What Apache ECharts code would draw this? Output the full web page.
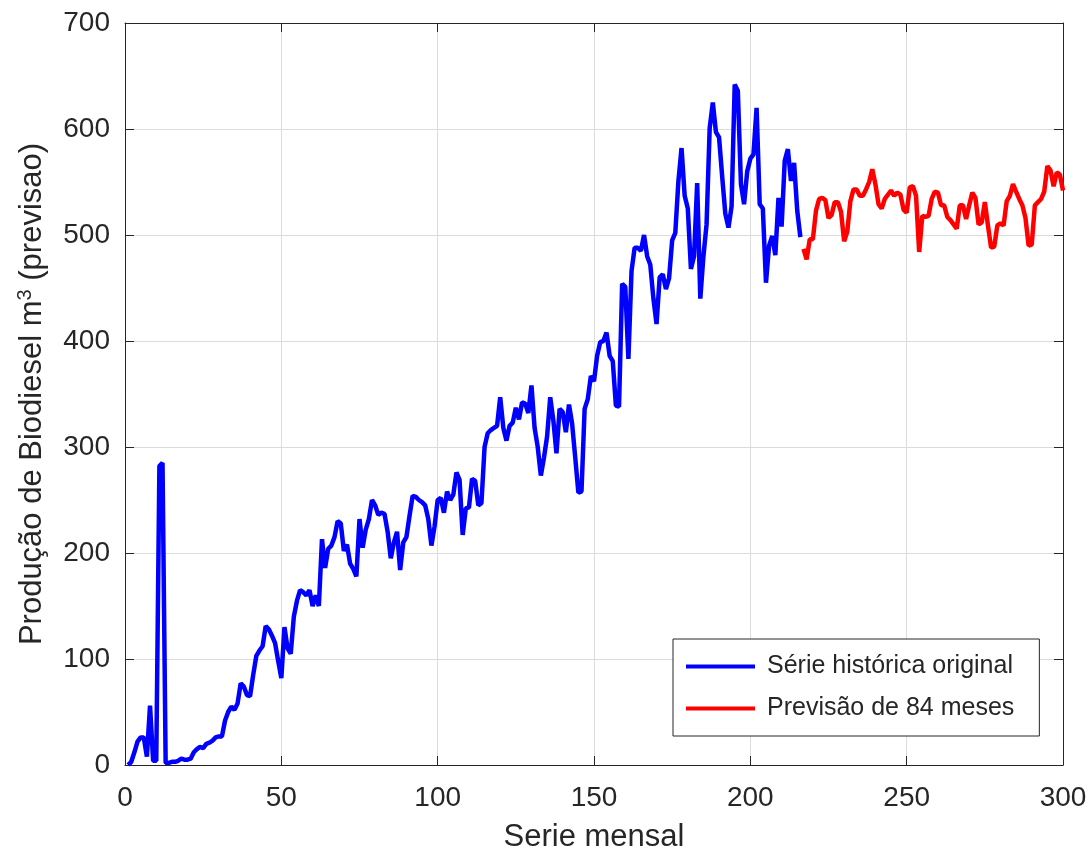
<!DOCTYPE html>
<html>
<head>
<meta charset="utf-8">
<script src="https://cdn.jsdelivr.net/npm/echarts@6/dist/echarts.min.js"></script>
<style>
html,body{margin:0;padding:0;background:#fff;}
#chart{width:1089px;height:852px;}
</style>
</head>
<body>
<div id="chart"></div>
<script>
// Historical series: months 1..216
const historico = [
  0, 3, 12, 22, 26, 26, 8, 56, 4, 4,
  282, 285, 2, 2, 3, 3, 4, 6, 5, 5,
  6, 12, 15, 17, 16, 20, 21, 23, 26, 27,
  27, 42, 50, 55, 52, 58, 77, 74, 66, 65,
  85, 103, 108, 112, 131, 128, 122, 115, 98, 82,
  130, 110, 105, 140, 155, 165, 163, 160, 165, 150,
  160, 150, 213, 186, 204, 207, 215, 230, 228, 202,
  208, 190, 185, 178, 232, 205, 222, 232, 250, 245,
  236, 238, 237, 220, 195, 210, 220, 184, 210, 215,
  235, 254, 253, 250, 248, 245, 232, 207, 225, 250,
  252, 238, 258, 250, 255, 276, 269, 217, 242, 243,
  270, 268, 245, 247, 300, 313, 316, 318, 320, 347,
  318, 306, 320, 323, 337, 326, 342, 341, 332, 358,
  318, 300, 273, 290, 310, 347, 325, 294, 336, 333,
  314, 340, 322, 290, 257, 258, 336, 345, 367, 362,
  386, 399, 400, 408, 386, 381, 339, 338, 454, 451,
  383, 466, 488, 488, 485, 500, 480, 472, 440, 416,
  460, 463, 449, 459, 495, 502, 551, 582, 537, 525,
  468, 480, 549, 440, 480, 510, 601, 625, 597, 592,
  555, 520, 507, 527, 642, 636, 548, 529, 560, 572,
  576, 620, 529, 525, 455, 490, 499, 481, 535, 508,
  570, 581, 551, 568, 523, 498
];
// Forecast: months 217..300 (84 values)
const previsao = [
  487, 477, 496, 496, 523, 534, 535, 533, 516, 519,
  531, 531, 522, 494, 503, 532, 543, 543, 537, 537,
  543, 550, 562, 548, 529, 525, 534, 538, 542, 537,
  540, 538, 524, 521, 545, 546, 537, 484, 518, 517,
  518, 534, 541, 540, 528, 528, 517, 514, 510, 506,
  528, 528, 515, 528, 540, 535, 510, 512, 531, 509,
  488, 489, 509, 511, 509, 532, 537, 548, 541, 534,
  528, 516, 490, 491, 528, 531, 534, 541, 565, 561,
  546, 559, 557, 542
];
const inicioPrevisao = 217;
const xTicks = [0, 50, 100, 150, 200, 250, 300];
const yTicks = [0, 100, 200, 300, 400, 500, 600, 700];
const nomes = ['Série histórica original', 'Previsão de 84 meses'];

const histData = historico.map((v, i) => [i + 1, v]);
const prevData = previsao.map((v, i) => [inicioPrevisao + i, v]);

const txt = '#262626';
const font = 'Liberation Sans, Arial, sans-serif';
const chart = echarts.init(document.getElementById('chart'), null, {renderer: 'canvas'});

const baseX = {
  type: 'value', min: xTicks[0], max: xTicks[xTicks.length - 1], interval: 50,
  axisLine: {show: true, onZero: false, lineStyle: {color: txt, width: 1}},
  axisTick: {show: true, inside: true, length: 9, lineStyle: {color: txt}},
  splitLine: {show: false}
};
const baseY = {
  type: 'value', min: yTicks[0], max: yTicks[yTicks.length - 1], interval: 100,
  axisLine: {show: true, onZero: false, lineStyle: {color: txt, width: 1}},
  axisTick: {show: true, inside: true, length: 9, lineStyle: {color: txt}},
  splitLine: {show: false}
};

chart.setOption({
  animation: false,
  backgroundColor: '#fff',
  textStyle: {fontFamily: font},
  grid: {left: 125, right: 26, top: 23, bottom: 87, containLabel: false, outerBoundsMode: 'none'},
  xAxis: [
    Object.assign({}, baseX, {
      position: 'bottom',
      name: 'Serie mensal', nameLocation: 'middle', nameGap: 57,
      nameTextStyle: {fontSize: 31, color: txt, fontFamily: font},
      axisLabel: {fontSize: 28, color: txt, margin: 19, fontFamily: font},
      splitLine: {show: true, lineStyle: {color: '#dcdcdc', width: 1}}
    }),
    Object.assign({}, baseX, {position: 'top', axisLabel: {show: false}})
  ],
  yAxis: [
    Object.assign({}, baseY, {
      position: 'left',
      name: 'Produção de Biodiesel m{sup|3} (previsao)', nameLocation: 'middle', nameGap: 76,
      nameTextStyle: {
        fontSize: 31, color: txt, fontFamily: font,
        rich: {sup: {fontSize: 20, color: txt, fontFamily: font, verticalAlign: 'top', padding: [0, 0, 14, 0]}}
      },
      axisLabel: {fontSize: 28, color: txt, margin: 15, fontFamily: font},
      splitLine: {show: true, lineStyle: {color: '#dcdcdc', width: 1}}
    }),
    Object.assign({}, baseY, {position: 'right', axisLabel: {show: false}})
  ],
  legend: {
    orient: 'vertical',
    left: 673, top: 639,
    backgroundColor: '#fff',
    borderColor: txt, borderWidth: 1,
    padding: [15, 25, 15, 13],
    itemGap: 17,
    itemWidth: 69, itemHeight: 4,
    icon: 'rect',
    textStyle: {fontSize: 25, color: txt, fontFamily: font, padding: [0, 0, 0, 7]},
    data: nomes
  },
  series: [
    {
      name: nomes[0], type: 'line', data: histData, showSymbol: false, symbol: 'none',
      lineStyle: {color: '#0000ff', width: 4.5}, itemStyle: {color: '#0000ff'}, z: 3
    },
    {
      name: nomes[1], type: 'line', data: prevData, showSymbol: false, symbol: 'none',
      lineStyle: {color: '#ff0000', width: 4.5}, itemStyle: {color: '#ff0000'}, z: 3
    }
  ]
});
</script>
</body>
</html>
